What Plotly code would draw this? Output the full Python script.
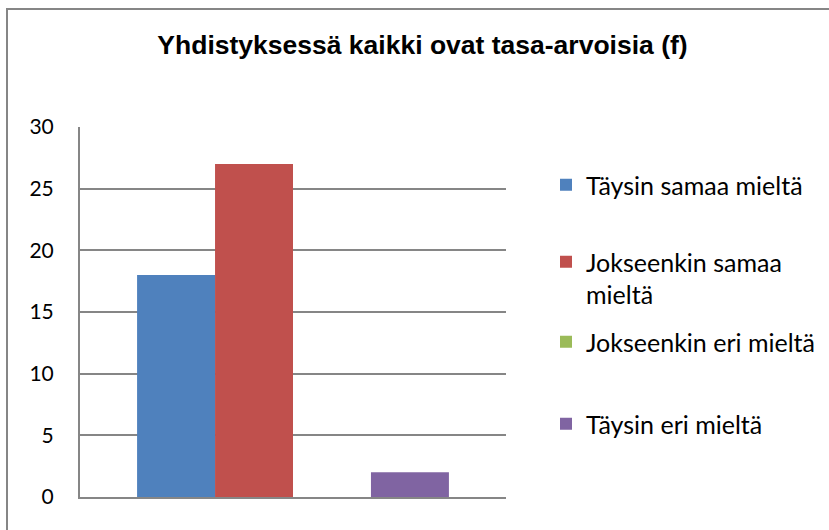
import plotly.graph_objects as go

title = "Yhdistyksessä kaikki ovat tasa-arvoisia (f)"
categories = [""]
series_names = ["Täysin samaa mieltä", "Jokseenkin samaa<br>mieltä", "Jokseenkin eri mieltä", "Täysin eri mieltä"]
series_values = [[18], [27], [0], [2]]
colors = ["#4F81BD", "#C0504D", "#9BBB59", "#8064A2"]
y_ticks = [0, 5, 10, 15, 20, 25, 30]

W, H = 829, 530
L, R, T, B = 80, 506, 127, 497
legend_centers = [185, 278, 342, 424]  # pixel centres of each legend block
legend_ids = ["legend", "legend2", "legend3", "legend4"]

fig = go.Figure()
for name, vals, col, lid in zip(series_names, series_values, colors, legend_ids):
    fig.add_trace(go.Bar(x=categories, y=vals, name=name,
                         marker=dict(color=col, line=dict(width=0)), legend=lid))

def px_x(p):
    return (p - L) / (R - L)

def px_y(p):
    return (B - p) / (B - T)

legend_font = dict(family="Lato, Open Sans, sans-serif", size=25, color="black")
legends = {}
for lid, cy in zip(legend_ids, legend_centers):
    legends[lid] = dict(x=px_x(546), xanchor="left", y=px_y(cy), yanchor="middle",
                        font=legend_font, valign="top", bgcolor="rgba(0,0,0,0)",
                        borderwidth=0)

fig.update_layout(
    width=W, height=H,
    margin=dict(l=L, r=W - R, t=T, b=H - B, pad=0, autoexpand=False),
    paper_bgcolor="white", plot_bgcolor="white",
    barmode="group", bargap=0.268, bargroupgap=0,
    title=dict(text="<b>" + title + "</b>", xref="container", x=422.5 / W, xanchor="center",
               yref="container", y=1 - 45 / H, yanchor="middle",
               font=dict(family="Liberation Sans, Arial", size=26.5, color="black")),
    font=dict(family="Lato, Open Sans, sans-serif", color="black"),
    showlegend=True,
    xaxis=dict(showticklabels=False, showgrid=False, showline=True, linecolor="#868686", linewidth=2,
               ticks="", zeroline=False, fixedrange=True),
    yaxis=dict(range=[0, 30], tickvals=y_ticks, showgrid=True, gridcolor="#868686", gridwidth=1.5,
               showline=True, linecolor="#868686", linewidth=2, ticks="", zeroline=False,
               tickfont=dict(family="Lato, Open Sans, sans-serif", size=21, color="black"),
               ticklabelstandoff=20, fixedrange=True),
    **legends,
)

# outer chart border (left and top edges visible)
fig.add_shape(type="rect", xref="paper", yref="paper",
              x0=px_x(7), y0=px_y(560), x1=px_x(860), y1=px_y(9),
              line=dict(color="#868686", width=2), fillcolor="rgba(0,0,0,0)", layer="below")

fig.write_html("out.html", config={"displayModeBar": False},
               post_script="document.body.style.margin='0';")
